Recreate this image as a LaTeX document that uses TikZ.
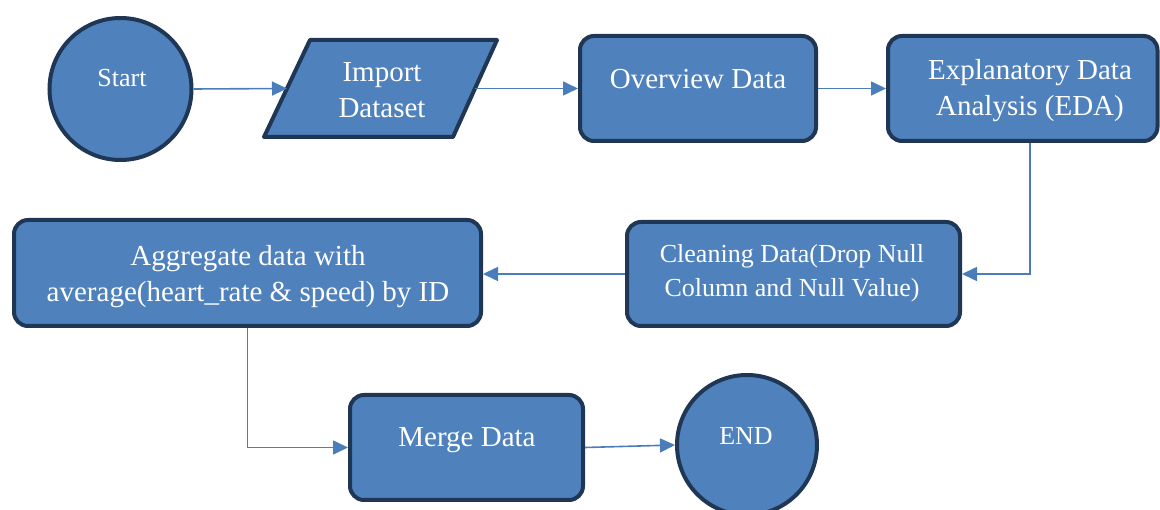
\documentclass[tikz,border=0pt]{standalone}
\usepackage{fontspec}
\setmainfont{Liberation Serif}
\usetikzlibrary{arrows.meta}
\definecolor{boxfill}{HTML}{4F81BD}
\definecolor{boxline}{HTML}{1F3654}
\definecolor{linkc}{HTML}{4A7EBB}
\tikzset{
  stage/.style={draw=boxline, line width=4pt, fill=boxfill, rounded corners=14pt,
    inner sep=0pt, rectangle},
  term/.style={draw=boxline, line width=4pt, fill=boxfill, circle, inner sep=0pt},
  lbl/.style={text=white, align=center, inner sep=0pt,
    font=\fontsize{29}{36}\selectfont},
  lblsm/.style={lbl, font=\fontsize{26}{34}\selectfont},
  link/.style={draw=linkc, line width=1.6pt,
    -{Triangle[length=15pt,width=14pt]}},
}
\begin{document}
\begin{tikzpicture}[x=1pt,y=-1pt]
\useasboundingbox (0,0) rectangle (1160,510);

% start terminal
\node[term, minimum size=142pt] (start) at (120.5,89) {};
\node[lblsm] (startT) at (122,78) {Start};

% input parallelogram
\draw[draw=boxline, line width=4pt, fill=boxfill, line join=round]
  (310,40) -- (497,40) -- (453,137) -- (264,137) -- cycle;
\node[lbl] (imp) at (382,90.5) {Import\\Dataset};
\coordinate (impL) at (287,88.5);
\coordinate (impR) at (475,88.5);

% process boxes
\node[stage, minimum width=236pt, minimum height=105pt] (ov) at (698,88.5) {};
\node[lbl] (ovT) at (698,79) {Overview Data};

\node[stage, minimum width=269.5pt, minimum height=105pt] (eda) at (1022.75,88.5) {};
\node[lbl] (edaT) at (1030,90.5) {Explanatory Data\\Analysis (EDA)};

\node[stage, minimum width=333pt, minimum height=104pt] (clean) at (793.5,274) {};
\node[lblsm] (cleanT) at (792,273) {Cleaning Data(Drop Null\\Column and Null Value)};

\node[stage, minimum width=467pt, minimum height=106pt] (agg) at (247.5,273) {};
\node[lbl] (aggT) at (248,276.5) {Aggregate data with\\average(heart\_rate \& speed) by ID};

\node[stage, minimum width=233pt, minimum height=105pt] (merge) at (466.5,447.5) {};
\node[lbl] (mergeT) at (467,440) {Merge Data};

% end terminal
\node[term, minimum size=140pt] (end) at (747,445) {};
\node[lblsm] (endT) at (746,436) {END};

% connectors
\draw[link] (start.east) -- (impL);
\draw[link] (impR) -- (ov.west);
\draw[link] (ov.east) -- (eda.west);
\draw[link] (eda.south -| edaT) |- (clean.east);
\draw[link] (clean.west) -- (clean.west -| agg.east);
\draw[link] (agg.south) |- (merge.west);
\draw[link] (merge.east) -- (end.west);
\end{tikzpicture}
\end{document}
